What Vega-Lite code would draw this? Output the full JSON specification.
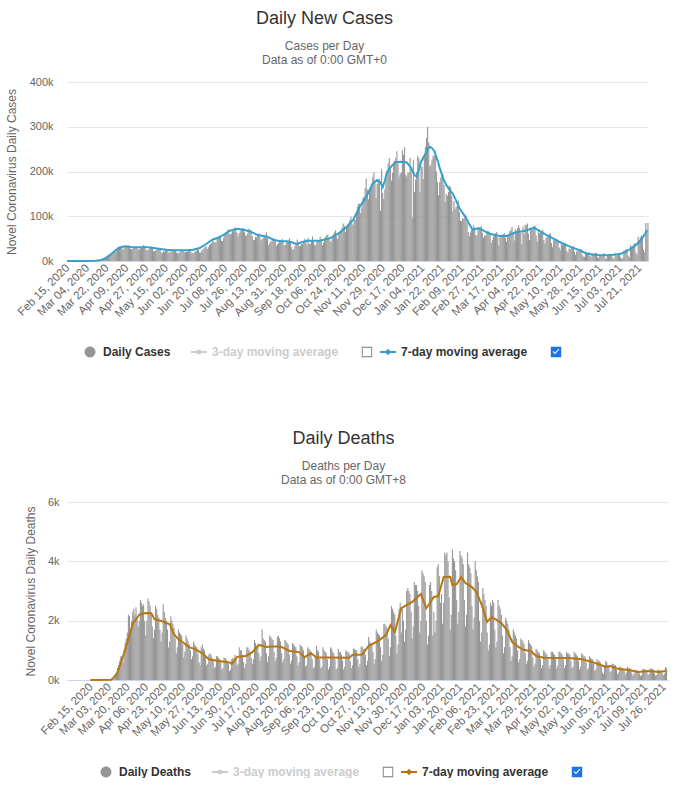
{
"$schema":"https://vega.github.io/schema/vega-lite/v6.json",
"padding":{"left":5,"top":10,"right":0,"bottom":0},
"spacing":72,
"background":"#ffffff",
"config":{"font":"Liberation Sans","view":{"stroke":null},
"axis":{"labelFont":"Liberation Sans","titleFont":"Liberation Sans","labelColor":"#666666","titleColor":"#666666","titleFontWeight":"normal","titleFontSize":12,"labelFontSize":11},
"title":{"font":"Liberation Sans","subtitleFont":"Liberation Sans"}},
"resolve":{"scale":{"color":"independent"},"legend":{"color":"independent"}},
"datasets":{
"daily":[
{"d":"2020-02-15","c":1,"k":0},{"d":"2020-02-16","c":0,"k":0},{"d":"2020-02-17","c":0,"k":0},{"d":"2020-02-18","c":0,"k":0},{"d":"2020-02-19","c":1,"k":0},{"d":"2020-02-20","c":0,"k":0},{"d":"2020-02-21","c":2,"k":0},
{"d":"2020-02-22","c":0,"k":0},{"d":"2020-02-23","c":3,"k":0},{"d":"2020-02-24","c":0,"k":0},{"d":"2020-02-25","c":0,"k":0},{"d":"2020-02-26","c":1,"k":0},{"d":"2020-02-27","c":2,"k":0},{"d":"2020-02-28","c":1,"k":0},
{"d":"2020-02-29","c":7,"k":0},{"d":"2020-03-01","c":10,"k":0},{"d":"2020-03-02","c":20,"k":2},{"d":"2020-03-03","c":24,"k":5},{"d":"2020-03-04","c":30,"k":10},{"d":"2020-03-05","c":70,"k":20},{"d":"2020-03-06","c":60,"k":30},
{"d":"2020-03-07","c":120,"k":50},{"d":"2020-03-08","c":120,"k":100},{"d":"2020-03-09","c":190,"k":200},{"d":"2020-03-10","c":290,"k":400},{"d":"2020-03-11","c":320,"k":500},{"d":"2020-03-12","c":400,"k":650},{"d":"2020-03-13","c":470,"k":800},
{"d":"2020-03-14","c":700,"k":800},{"d":"2020-03-15","c":800,"k":600},{"d":"2020-03-16","c":1300,"k":1000},{"d":"2020-03-17","c":1400,"k":1250},{"d":"2020-03-18","c":3000,"k":1400},{"d":"2020-03-19","c":4800,"k":1600},{"d":"2020-03-20","c":6000,"k":2200},
{"d":"2020-03-21","c":7500,"k":2150},{"d":"2020-03-22","c":9000,"k":1700},{"d":"2020-03-23","c":11000,"k":2000},{"d":"2020-03-24","c":12000,"k":2300},{"d":"2020-03-25","c":14000,"k":2400},{"d":"2020-03-26","c":17500,"k":2200},{"d":"2020-03-27","c":19000,"k":2450},
{"d":"2020-03-28","c":19000,"k":2100},{"d":"2020-03-29","c":20000,"k":1800},{"d":"2020-03-30","c":21000,"k":2000},{"d":"2020-03-31","c":26000,"k":2700},{"d":"2020-04-01","c":27000,"k":2600},{"d":"2020-04-02","c":29000,"k":2500},{"d":"2020-04-03","c":32000,"k":2550},
{"d":"2020-04-04","c":34000,"k":2000},{"d":"2020-04-05","c":25000,"k":1500},{"d":"2020-04-06","c":28000,"k":2000},{"d":"2020-04-07","c":31000,"k":2750},{"d":"2020-04-08","c":32000,"k":2650},{"d":"2020-04-09","c":34000,"k":2500},{"d":"2020-04-10","c":35000,"k":2200},
{"d":"2020-04-11","c":30000,"k":1800},{"d":"2020-04-12","c":27000,"k":1400},{"d":"2020-04-13","c":26000,"k":1700},{"d":"2020-04-14","c":27000,"k":2500},{"d":"2020-04-15","c":29000,"k":2400},{"d":"2020-04-16","c":30000,"k":2200},{"d":"2020-04-17","c":32000,"k":2100},
{"d":"2020-04-18","c":29000,"k":1700},{"d":"2020-04-19","c":25000,"k":1300},{"d":"2020-04-20","c":26000,"k":1600},{"d":"2020-04-21","c":28000,"k":2550},{"d":"2020-04-22","c":29000,"k":2300},{"d":"2020-04-23","c":31000,"k":2100},{"d":"2020-04-24","c":36000,"k":2000},
{"d":"2020-04-25","c":33000,"k":1700},{"d":"2020-04-26","c":25000,"k":1100},{"d":"2020-04-27","c":24000,"k":1300},{"d":"2020-04-28","c":25000,"k":2150},{"d":"2020-04-29","c":27000,"k":2000},{"d":"2020-04-30","c":30000,"k":1900},{"d":"2020-05-01","c":33000,"k":1750},
{"d":"2020-05-02","c":29000,"k":1400},{"d":"2020-05-03","c":22000,"k":900},{"d":"2020-05-04","c":22000,"k":1100},{"d":"2020-05-05","c":24000,"k":1700},{"d":"2020-05-06","c":25000,"k":1600},{"d":"2020-05-07","c":28000,"k":1550},{"d":"2020-05-08","c":28000,"k":1500},
{"d":"2020-05-09","c":25000,"k":1200},{"d":"2020-05-10","c":19000,"k":750},{"d":"2020-05-11","c":18000,"k":950},{"d":"2020-05-12","c":22000,"k":1500},{"d":"2020-05-13","c":21000,"k":1400},{"d":"2020-05-14","c":27000,"k":1300},{"d":"2020-05-15","c":27000,"k":1200},
{"d":"2020-05-16","c":24000,"k":1000},{"d":"2020-05-17","c":18000,"k":700},{"d":"2020-05-18","c":21000,"k":800},{"d":"2020-05-19","c":20000,"k":1300},{"d":"2020-05-20","c":22000,"k":1200},{"d":"2020-05-21","c":27000,"k":1150},{"d":"2020-05-22","c":25000,"k":1100},
{"d":"2020-05-23","c":22000,"k":900},{"d":"2020-05-24","c":19000,"k":600},{"d":"2020-05-25","c":17000,"k":500},{"d":"2020-05-26","c":18000,"k":1100},{"d":"2020-05-27","c":20000,"k":1200},{"d":"2020-05-28","c":22000,"k":1050},{"d":"2020-05-29","c":25000,"k":1000},
{"d":"2020-05-30","c":23000,"k":800},{"d":"2020-05-31","c":19000,"k":500},{"d":"2020-06-01","c":20000,"k":550},{"d":"2020-06-02","c":20000,"k":850},{"d":"2020-06-03","c":21000,"k":900},{"d":"2020-06-04","c":23000,"k":850},{"d":"2020-06-05","c":25000,"k":750},
{"d":"2020-06-06","c":22000,"k":650},{"d":"2020-06-07","c":17000,"k":400},{"d":"2020-06-08","c":18000,"k":450},{"d":"2020-06-09","c":19000,"k":800},{"d":"2020-06-10","c":22000,"k":800},{"d":"2020-06-11","c":23000,"k":750},{"d":"2020-06-12","c":26000,"k":700},
{"d":"2020-06-13","c":25000,"k":600},{"d":"2020-06-14","c":19000,"k":350},{"d":"2020-06-15","c":19000,"k":400},{"d":"2020-06-16","c":23000,"k":750},{"d":"2020-06-17","c":26000,"k":750},{"d":"2020-06-18","c":28000,"k":700},{"d":"2020-06-19","c":32000,"k":650},
{"d":"2020-06-20","c":33000,"k":550},{"d":"2020-06-21","c":27000,"k":300},{"d":"2020-06-22","c":31000,"k":350},{"d":"2020-06-23","c":35000,"k":700},{"d":"2020-06-24","c":38000,"k":750},{"d":"2020-06-25","c":40000,"k":700},{"d":"2020-06-26","c":46000,"k":850},
{"d":"2020-06-27","c":43000,"k":700},{"d":"2020-06-28","c":42000,"k":500},{"d":"2020-06-29","c":42000,"k":550},{"d":"2020-06-30","c":50000,"k":1100},{"d":"2020-07-01","c":52000,"k":1000},{"d":"2020-07-02","c":57000,"k":1000},{"d":"2020-07-03","c":54000,"k":850},
{"d":"2020-07-04","c":45000,"k":600},{"d":"2020-07-05","c":44000,"k":400},{"d":"2020-07-06","c":52000,"k":550},{"d":"2020-07-07","c":60000,"k":1100},{"d":"2020-07-08","c":63000,"k":1100},{"d":"2020-07-09","c":64000,"k":1000},{"d":"2020-07-10","c":71000,"k":950},
{"d":"2020-07-11","c":61000,"k":750},{"d":"2020-07-12","c":59000,"k":550},{"d":"2020-07-13","c":62000,"k":700},{"d":"2020-07-14","c":68000,"k":1350},{"d":"2020-07-15","c":66000,"k":1250},{"d":"2020-07-16","c":75000,"k":1150},{"d":"2020-07-17","c":72000,"k":1100},
{"d":"2020-07-18","c":64000,"k":900},{"d":"2020-07-19","c":56000,"k":650},{"d":"2020-07-20","c":62000,"k":800},{"d":"2020-07-21","c":66000,"k":1700},{"d":"2020-07-22","c":72000,"k":1400},{"d":"2020-07-23","c":71000,"k":1350},{"d":"2020-07-24","c":74000,"k":1300},
{"d":"2020-07-25","c":64000,"k":900},{"d":"2020-07-26","c":56000,"k":600},{"d":"2020-07-27","c":58000,"k":800},{"d":"2020-07-28","c":63000,"k":1500},{"d":"2020-07-29","c":72000,"k":1450},{"d":"2020-07-30","c":70000,"k":1400},{"d":"2020-07-31","c":68000,"k":1350},
{"d":"2020-08-01","c":56000,"k":950},{"d":"2020-08-02","c":47000,"k":650},{"d":"2020-08-03","c":47000,"k":750},{"d":"2020-08-04","c":54000,"k":1450},{"d":"2020-08-05","c":53000,"k":1500},{"d":"2020-08-06","c":58000,"k":1400},{"d":"2020-08-07","c":62000,"k":1300},
{"d":"2020-08-08","c":55000,"k":900},{"d":"2020-08-09","c":46000,"k":600},{"d":"2020-08-10","c":49000,"k":700},{"d":"2020-08-11","c":52000,"k":1350},{"d":"2020-08-12","c":55000,"k":1300},{"d":"2020-08-13","c":52000,"k":1250},{"d":"2020-08-14","c":64000,"k":1200},
{"d":"2020-08-15","c":51000,"k":850},{"d":"2020-08-16","c":35000,"k":550},{"d":"2020-08-17","c":40000,"k":650},{"d":"2020-08-18","c":44000,"k":1250},{"d":"2020-08-19","c":46000,"k":1200},{"d":"2020-08-20","c":46000,"k":1150},{"d":"2020-08-21","c":50000,"k":1100},
{"d":"2020-08-22","c":44000,"k":800},{"d":"2020-08-23","c":34000,"k":500},{"d":"2020-08-24","c":37000,"k":600},{"d":"2020-08-25","c":40000,"k":1200},{"d":"2020-08-26","c":45000,"k":1150},{"d":"2020-08-27","c":46000,"k":1100},{"d":"2020-08-28","c":50000,"k":1000},
{"d":"2020-08-29","c":45000,"k":750},{"d":"2020-08-30","c":35000,"k":450},{"d":"2020-08-31","c":36000,"k":500},{"d":"2020-09-01","c":40000,"k":1100},{"d":"2020-09-02","c":44000,"k":1050},{"d":"2020-09-03","c":45000,"k":1000},{"d":"2020-09-04","c":51000,"k":950},
{"d":"2020-09-05","c":43000,"k":700},{"d":"2020-09-06","c":31000,"k":400},{"d":"2020-09-07","c":24000,"k":450},{"d":"2020-09-08","c":27000,"k":800},{"d":"2020-09-09","c":34000,"k":1150},{"d":"2020-09-10","c":36000,"k":1000},{"d":"2020-09-11","c":48000,"k":950},
{"d":"2020-09-12","c":39000,"k":700},{"d":"2020-09-13","c":33000,"k":400},{"d":"2020-09-14","c":34000,"k":450},{"d":"2020-09-15","c":39000,"k":1100},{"d":"2020-09-16","c":38000,"k":1000},{"d":"2020-09-17","c":45000,"k":950},{"d":"2020-09-18","c":50000,"k":900},
{"d":"2020-09-19","c":42000,"k":700},{"d":"2020-09-20","c":36000,"k":350},{"d":"2020-09-21","c":52000,"k":450},{"d":"2020-09-22","c":39000,"k":1100},{"d":"2020-09-23","c":38000,"k":1050},{"d":"2020-09-24","c":45000,"k":950},{"d":"2020-09-25","c":55000,"k":900},
{"d":"2020-09-26","c":43000,"k":700},{"d":"2020-09-27","c":35000,"k":350},{"d":"2020-09-28","c":36000,"k":400},{"d":"2020-09-29","c":43000,"k":1050},{"d":"2020-09-30","c":45000,"k":950},{"d":"2020-10-01","c":47000,"k":950},{"d":"2020-10-02","c":54000,"k":850},
{"d":"2020-10-03","c":48000,"k":650},{"d":"2020-10-04","c":36000,"k":350},{"d":"2020-10-05","c":41000,"k":450},{"d":"2020-10-06","c":50000,"k":1000},{"d":"2020-10-07","c":54000,"k":950},{"d":"2020-10-08","c":58000,"k":950},{"d":"2020-10-09","c":59000,"k":900},
{"d":"2020-10-10","c":49000,"k":650},{"d":"2020-10-11","c":45000,"k":400},{"d":"2020-10-12","c":42000,"k":500},{"d":"2020-10-13","c":53000,"k":1050},{"d":"2020-10-14","c":60000,"k":1050},{"d":"2020-10-15","c":64000,"k":1000},{"d":"2020-10-16","c":69000,"k":1000},
{"d":"2020-10-17","c":55000,"k":700},{"d":"2020-10-18","c":49000,"k":450},{"d":"2020-10-19","c":60000,"k":550},{"d":"2020-10-20","c":63000,"k":1100},{"d":"2020-10-21","c":65000,"k":1150},{"d":"2020-10-22","c":75000,"k":1050},{"d":"2020-10-23","c":84000,"k":1050},
{"d":"2020-10-24","c":79000,"k":850},{"d":"2020-10-25","c":64000,"k":500},{"d":"2020-10-26","c":74000,"k":650},{"d":"2020-10-27","c":78000,"k":1450},{"d":"2020-10-28","c":80000,"k":1300},{"d":"2020-10-29","c":91000,"k":1250},{"d":"2020-10-30","c":99000,"k":1200},
{"d":"2020-10-31","c":84000,"k":950},{"d":"2020-11-01","c":81000,"k":550},{"d":"2020-11-02","c":93000,"k":700},{"d":"2020-11-03","c":92000,"k":1700},{"d":"2020-11-04","c":105000,"k":1600},{"d":"2020-11-05","c":122000,"k":1550},{"d":"2020-11-06","c":128000,"k":1500},
{"d":"2020-11-07","c":128000,"k":1100},{"d":"2020-11-08","c":107000,"k":650},{"d":"2020-11-09","c":120000,"k":850},{"d":"2020-11-10","c":141000,"k":1900},{"d":"2020-11-11","c":144000,"k":1900},{"d":"2020-11-12","c":163000,"k":1800},{"d":"2020-11-13","c":184000,"k":1750},
{"d":"2020-11-14","c":160000,"k":1400},{"d":"2020-11-15","c":138000,"k":800},{"d":"2020-11-16","c":158000,"k":1100},{"d":"2020-11-17","c":162000,"k":2500},{"d":"2020-11-18","c":172000,"k":2400},{"d":"2020-11-19","c":187000,"k":2300},{"d":"2020-11-20","c":198000,"k":2200},
{"d":"2020-11-21","c":178000,"k":1500},{"d":"2020-11-22","c":141000,"k":900},{"d":"2020-11-23","c":172000,"k":1200},{"d":"2020-11-24","c":180000,"k":2400},{"d":"2020-11-25","c":184000,"k":2600},{"d":"2020-11-26","c":112000,"k":1600},{"d":"2020-11-27","c":205000,"k":2400},
{"d":"2020-11-28","c":152000,"k":2000},{"d":"2020-11-29","c":139000,"k":1300},{"d":"2020-11-30","c":161000,"k":1700},{"d":"2020-12-01","c":185000,"k":3000},{"d":"2020-12-02","c":200000,"k":3100},{"d":"2020-12-03","c":218000,"k":3000},{"d":"2020-12-04","c":230000,"k":2900},
{"d":"2020-12-05","c":211000,"k":2300},{"d":"2020-12-06","c":180000,"k":1400},{"d":"2020-12-07","c":197000,"k":1800},{"d":"2020-12-08","c":221000,"k":3300},{"d":"2020-12-09","c":224000,"k":3200},{"d":"2020-12-10","c":231000,"k":3200},{"d":"2020-12-11","c":245000,"k":3000},
{"d":"2020-12-12","c":218000,"k":2500},{"d":"2020-12-13","c":189000,"k":1600},{"d":"2020-12-14","c":196000,"k":2000},{"d":"2020-12-15","c":197000,"k":3700},{"d":"2020-12-16","c":248000,"k":3600},{"d":"2020-12-17","c":237000,"k":3500},{"d":"2020-12-18","c":254000,"k":3300},
{"d":"2020-12-19","c":193000,"k":2000},{"d":"2020-12-20","c":189000,"k":1200},{"d":"2020-12-21","c":198000,"k":1500},{"d":"2020-12-22","c":197000,"k":3200},{"d":"2020-12-23","c":230000,"k":3300},{"d":"2020-12-24","c":210000,"k":3000},{"d":"2020-12-25","c":97000,"k":1500},
{"d":"2020-12-26","c":226000,"k":2300},{"d":"2020-12-27","c":154000,"k":1600},{"d":"2020-12-28","c":182000,"k":2000},{"d":"2020-12-29","c":199000,"k":3800},{"d":"2020-12-30","c":235000,"k":3900},{"d":"2020-12-31","c":230000,"k":3500},{"d":"2021-01-01","c":155000,"k":2600},
{"d":"2021-01-02","c":213000,"k":2900},{"d":"2021-01-03","c":210000,"k":1900},{"d":"2021-01-04","c":183000,"k":2600},{"d":"2021-01-05","c":235000,"k":4300},{"d":"2021-01-06","c":255000,"k":4200},{"d":"2021-01-07","c":275000,"k":4300},{"d":"2021-01-08","c":300000,"k":4000},
{"d":"2021-01-09","c":265000,"k":2800},{"d":"2021-01-10","c":212000,"k":1700},{"d":"2021-01-11","c":215000,"k":2200},{"d":"2021-01-12","c":227000,"k":4400},{"d":"2021-01-13","c":235000,"k":4100},{"d":"2021-01-14","c":235000,"k":4000},{"d":"2021-01-15","c":245000,"k":3700},
{"d":"2021-01-16","c":200000,"k":2700},{"d":"2021-01-17","c":176000,"k":1900},{"d":"2021-01-18","c":147000,"k":2300},{"d":"2021-01-19","c":176000,"k":4350},{"d":"2021-01-20","c":186000,"k":4200},{"d":"2021-01-21","c":195000,"k":4100},{"d":"2021-01-22","c":194000,"k":3900},
{"d":"2021-01-23","c":170000,"k":2700},{"d":"2021-01-24","c":132000,"k":1800},{"d":"2021-01-25","c":150000,"k":2200},{"d":"2021-01-26","c":146000,"k":4300},{"d":"2021-01-27","c":154000,"k":3900},{"d":"2021-01-28","c":168000,"k":3800},{"d":"2021-01-29","c":165000,"k":3600},
{"d":"2021-01-30","c":146000,"k":2500},{"d":"2021-01-31","c":112000,"k":1700},{"d":"2021-02-01","c":134000,"k":2100},{"d":"2021-02-02","c":117000,"k":4000},{"d":"2021-02-03","c":121000,"k":3700},{"d":"2021-02-04","c":123000,"k":3500},{"d":"2021-02-05","c":135000,"k":3300},
{"d":"2021-02-06","c":109000,"k":2000},{"d":"2021-02-07","c":90000,"k":1300},{"d":"2021-02-08","c":89000,"k":1600},{"d":"2021-02-09","c":96000,"k":3100},{"d":"2021-02-10","c":94000,"k":2900},{"d":"2021-02-11","c":104000,"k":2700},{"d":"2021-02-12","c":101000,"k":2500},
{"d":"2021-02-13","c":85000,"k":1600},{"d":"2021-02-14","c":65000,"k":1000},{"d":"2021-02-15","c":56000,"k":1200},{"d":"2021-02-16","c":63000,"k":2600},{"d":"2021-02-17","c":70000,"k":2500},{"d":"2021-02-18","c":69000,"k":2700},{"d":"2021-02-19","c":80000,"k":2600},
{"d":"2021-02-20","c":73000,"k":1700},{"d":"2021-02-21","c":58000,"k":1100},{"d":"2021-02-22","c":57000,"k":1300},{"d":"2021-02-23","c":73000,"k":2700},{"d":"2021-02-24","c":74000,"k":2500},{"d":"2021-02-25","c":76000,"k":2400},{"d":"2021-02-26","c":78000,"k":2200},
{"d":"2021-02-27","c":63000,"k":1500},{"d":"2021-02-28","c":52000,"k":900},{"d":"2021-03-01","c":57000,"k":1100},{"d":"2021-03-02","c":57000,"k":2100},{"d":"2021-03-03","c":65000,"k":2000},{"d":"2021-03-04","c":68000,"k":1900},{"d":"2021-03-05","c":66000,"k":1700},
{"d":"2021-03-06","c":59000,"k":1100},{"d":"2021-03-07","c":40000,"k":650},{"d":"2021-03-08","c":47000,"k":800},{"d":"2021-03-09","c":55000,"k":1700},{"d":"2021-03-10","c":59000,"k":1600},{"d":"2021-03-11","c":62000,"k":1500},{"d":"2021-03-12","c":65000,"k":1400},
{"d":"2021-03-13","c":53000,"k":1000},{"d":"2021-03-14","c":35000,"k":600},{"d":"2021-03-15","c":56000,"k":700},{"d":"2021-03-16","c":53000,"k":1400},{"d":"2021-03-17","c":59000,"k":1350},{"d":"2021-03-18","c":60000,"k":1300},{"d":"2021-03-19","c":62000,"k":1200},
{"d":"2021-03-20","c":52000,"k":900},{"d":"2021-03-21","c":43000,"k":550},{"d":"2021-03-22","c":58000,"k":650},{"d":"2021-03-23","c":59000,"k":1350},{"d":"2021-03-24","c":67000,"k":1250},{"d":"2021-03-25","c":70000,"k":1200},{"d":"2021-03-26","c":77000,"k":1150},
{"d":"2021-03-27","c":64000,"k":750},{"d":"2021-03-28","c":46000,"k":450},{"d":"2021-03-29","c":71000,"k":550},{"d":"2021-03-30","c":64000,"k":1050},{"d":"2021-03-31","c":73000,"k":1000},{"d":"2021-04-01","c":80000,"k":950},{"d":"2021-04-02","c":74000,"k":900},
{"d":"2021-04-03","c":63000,"k":700},{"d":"2021-04-04","c":37000,"k":400},{"d":"2021-04-05","c":77000,"k":500},{"d":"2021-04-06","c":61000,"k":1000},{"d":"2021-04-07","c":81000,"k":950},{"d":"2021-04-08","c":80000,"k":900},{"d":"2021-04-09","c":84000,"k":850},
{"d":"2021-04-10","c":61000,"k":700},{"d":"2021-04-11","c":47000,"k":400},{"d":"2021-04-12","c":75000,"k":500},{"d":"2021-04-13","c":69000,"k":950},{"d":"2021-04-14","c":75000,"k":950},{"d":"2021-04-15","c":78000,"k":900},{"d":"2021-04-16","c":79000,"k":850},
{"d":"2021-04-17","c":57000,"k":700},{"d":"2021-04-18","c":43000,"k":400},{"d":"2021-04-19","c":68000,"k":500},{"d":"2021-04-20","c":62000,"k":950},{"d":"2021-04-21","c":65000,"k":950},{"d":"2021-04-22","c":67000,"k":900},{"d":"2021-04-23","c":70000,"k":850},
{"d":"2021-04-24","c":47000,"k":700},{"d":"2021-04-25","c":39000,"k":400},{"d":"2021-04-26","c":52000,"k":500},{"d":"2021-04-27","c":54000,"k":950},{"d":"2021-04-28","c":58000,"k":900},{"d":"2021-04-29","c":60000,"k":900},{"d":"2021-04-30","c":62000,"k":850},
{"d":"2021-05-01","c":40000,"k":650},{"d":"2021-05-02","c":31000,"k":400},{"d":"2021-05-03","c":47000,"k":450},{"d":"2021-05-04","c":45000,"k":950},{"d":"2021-05-05","c":45000,"k":900},{"d":"2021-05-06","c":50000,"k":850},{"d":"2021-05-07","c":47000,"k":800},
{"d":"2021-05-08","c":30000,"k":650},{"d":"2021-05-09","c":24000,"k":350},{"d":"2021-05-10","c":38000,"k":450},{"d":"2021-05-11","c":35000,"k":900},{"d":"2021-05-12","c":38000,"k":850},{"d":"2021-05-13","c":38000,"k":800},{"d":"2021-05-14","c":40000,"k":800},
{"d":"2021-05-15","c":23000,"k":600},{"d":"2021-05-16","c":19000,"k":350},{"d":"2021-05-17","c":28000,"k":400},{"d":"2021-05-18","c":27000,"k":800},{"d":"2021-05-19","c":30000,"k":750},{"d":"2021-05-20","c":31000,"k":700},{"d":"2021-05-21","c":34000,"k":700},
{"d":"2021-05-22","c":21000,"k":550},{"d":"2021-05-23","c":14000,"k":300},{"d":"2021-05-24","c":23000,"k":350},{"d":"2021-05-25","c":22000,"k":700},{"d":"2021-05-26","c":26000,"k":650},{"d":"2021-05-27","c":27000,"k":650},{"d":"2021-05-28","c":26000,"k":600},
{"d":"2021-05-29","c":14000,"k":450},{"d":"2021-05-30","c":10000,"k":250},{"d":"2021-05-31","c":9000,"k":200},{"d":"2021-06-01","c":17000,"k":500},{"d":"2021-06-02","c":19000,"k":650},{"d":"2021-06-03","c":18000,"k":600},{"d":"2021-06-04","c":20000,"k":500},
{"d":"2021-06-05","c":12000,"k":450},{"d":"2021-06-06","c":8000,"k":250},{"d":"2021-06-07","c":14000,"k":300},{"d":"2021-06-08","c":17000,"k":550},{"d":"2021-06-09","c":16000,"k":550},{"d":"2021-06-10","c":19000,"k":500},{"d":"2021-06-11","c":18000,"k":500},
{"d":"2021-06-12","c":9000,"k":350},{"d":"2021-06-13","c":6000,"k":200},{"d":"2021-06-14","c":15000,"k":250},{"d":"2021-06-15","c":12000,"k":450},{"d":"2021-06-16","c":13000,"k":450},{"d":"2021-06-17","c":15000,"k":400},{"d":"2021-06-18","c":18000,"k":400},
{"d":"2021-06-19","c":6000,"k":300},{"d":"2021-06-20","c":5000,"k":180},{"d":"2021-06-21","c":14000,"k":250},{"d":"2021-06-22","c":11000,"k":450},{"d":"2021-06-23","c":12000,"k":400},{"d":"2021-06-24","c":14000,"k":400},{"d":"2021-06-25","c":15000,"k":380},
{"d":"2021-06-26","c":7000,"k":250},{"d":"2021-06-27","c":5000,"k":150},{"d":"2021-06-28","c":17000,"k":200},{"d":"2021-06-29","c":12000,"k":350},{"d":"2021-06-30","c":14000,"k":320},{"d":"2021-07-01","c":17000,"k":320},{"d":"2021-07-02","c":18000,"k":300},
{"d":"2021-07-03","c":8000,"k":220},{"d":"2021-07-04","c":5000,"k":130},{"d":"2021-07-05","c":6000,"k":160},{"d":"2021-07-06","c":23000,"k":350},{"d":"2021-07-07","c":24000,"k":380},{"d":"2021-07-08","c":27000,"k":360},{"d":"2021-07-09","c":26000,"k":340},
{"d":"2021-07-10","c":11000,"k":250},{"d":"2021-07-11","c":8000,"k":150},{"d":"2021-07-12","c":35000,"k":200},{"d":"2021-07-13","c":32000,"k":400},{"d":"2021-07-14","c":33000,"k":380},{"d":"2021-07-15","c":37000,"k":370},{"d":"2021-07-16","c":40000,"k":350},
{"d":"2021-07-17","c":18000,"k":220},{"d":"2021-07-18","c":14000,"k":140},{"d":"2021-07-19","c":54000,"k":180},{"d":"2021-07-20","c":47000,"k":350},{"d":"2021-07-21","c":53000,"k":340},{"d":"2021-07-22","c":57000,"k":330},{"d":"2021-07-23","c":56000,"k":320},
{"d":"2021-07-24","c":25000,"k":240},{"d":"2021-07-25","c":19000,"k":160},{"d":"2021-07-26","c":85000,"k":200},{"d":"2021-07-27","c":70000,"k":440},{"d":"2021-07-28","c":85000,"k":400}
],
"casesMA":[
{"d":"2020-02-15","c":0},{"d":"2020-03-01","c":0},{"d":"2020-03-12","c":300},{"d":"2020-03-16","c":1500},{"d":"2020-03-20","c":5000},{"d":"2020-03-25","c":13000},{"d":"2020-04-02","c":29000},{"d":"2020-04-08","c":33000},{"d":"2020-04-14","c":31000},{"d":"2020-04-21","c":31000},{"d":"2020-04-28","c":31000},{"d":"2020-05-04","c":29000},{"d":"2020-05-10","c":27000},{"d":"2020-05-16","c":25000},{"d":"2020-05-22","c":24000},{"d":"2020-05-28","c":24000},{"d":"2020-06-03","c":24000},{"d":"2020-06-09","c":25000},{"d":"2020-06-15","c":29000},{"d":"2020-06-21","c":38000},{"d":"2020-06-27","c":48000},{"d":"2020-07-03","c":53000},{"d":"2020-07-08","c":60000},{"d":"2020-07-12","c":67000},{"d":"2020-07-19","c":72000},{"d":"2020-07-25","c":70000},{"d":"2020-07-31","c":66000},{"d":"2020-08-07","c":58000},{"d":"2020-08-15","c":55000},{"d":"2020-08-22","c":47000},{"d":"2020-08-28","c":44000},{"d":"2020-09-02","c":44000},{"d":"2020-09-07","c":42000},{"d":"2020-09-11","c":38000},{"d":"2020-09-16","c":42000},{"d":"2020-09-21","c":45000},{"d":"2020-09-27","c":45000},{"d":"2020-10-02","c":45000},{"d":"2020-10-07","c":48000},{"d":"2020-10-12","c":51000},{"d":"2020-10-17","c":57000},{"d":"2020-10-21","c":64000},{"d":"2020-10-27","c":76000},{"d":"2020-11-02","c":92000},{"d":"2020-11-08","c":121000},{"d":"2020-11-14","c":143000},{"d":"2020-11-20","c":174000},{"d":"2020-11-24","c":181000},{"d":"2020-11-27","c":175000},{"d":"2020-11-29","c":165000},{"d":"2020-12-01","c":180000},{"d":"2020-12-03","c":199000},{"d":"2020-12-07","c":212000},{"d":"2020-12-11","c":221000},{"d":"2020-12-16","c":222000},{"d":"2020-12-21","c":220000},{"d":"2020-12-25","c":208000},{"d":"2020-12-28","c":192000},{"d":"2020-12-30","c":188000},{"d":"2021-01-01","c":205000},{"d":"2021-01-03","c":222000},{"d":"2021-01-06","c":235000},{"d":"2021-01-09","c":250000},{"d":"2021-01-11","c":255000},{"d":"2021-01-13","c":252000},{"d":"2021-01-15","c":246000},{"d":"2021-01-18","c":225000},{"d":"2021-01-20","c":208000},{"d":"2021-01-23","c":185000},{"d":"2021-01-26","c":170000},{"d":"2021-01-29","c":159000},{"d":"2021-02-01","c":150000},{"d":"2021-02-04","c":135000},{"d":"2021-02-07","c":118000},{"d":"2021-02-10","c":107000},{"d":"2021-02-13","c":96000},{"d":"2021-02-16","c":82000},{"d":"2021-02-19","c":70000},{"d":"2021-02-22","c":72000},{"d":"2021-02-25","c":73000},{"d":"2021-03-03","c":65000},{"d":"2021-03-07","c":61000},{"d":"2021-03-11","c":58000},{"d":"2021-03-16","c":56000},{"d":"2021-03-22","c":56000},{"d":"2021-03-27","c":61000},{"d":"2021-03-31","c":65000},{"d":"2021-04-04","c":66000},{"d":"2021-04-07","c":67000},{"d":"2021-04-12","c":71000},{"d":"2021-04-16","c":74000},{"d":"2021-04-20","c":69000},{"d":"2021-04-24","c":63000},{"d":"2021-04-28","c":57000},{"d":"2021-05-03","c":51000},{"d":"2021-05-09","c":43000},{"d":"2021-05-15","c":36000},{"d":"2021-05-21","c":30000},{"d":"2021-05-27","c":25000},{"d":"2021-06-01","c":19000},{"d":"2021-06-04","c":16000},{"d":"2021-06-10","c":14000},{"d":"2021-06-15","c":13000},{"d":"2021-06-21","c":13000},{"d":"2021-06-27","c":14000},{"d":"2021-07-01","c":15000},{"d":"2021-07-04","c":16000},{"d":"2021-07-08","c":20000},{"d":"2021-07-11","c":24000},{"d":"2021-07-14","c":29000},{"d":"2021-07-18","c":36000},{"d":"2021-07-21","c":43000},{"d":"2021-07-24","c":52000},{"d":"2021-07-26","c":59000},{"d":"2021-07-28","c":69000}
],
"deathsMA":[
{"d":"2020-02-15","k":0},{"d":"2020-03-05","k":10},{"d":"2020-03-08","k":100},{"d":"2020-03-11","k":270},{"d":"2020-03-17","k":900},{"d":"2020-03-25","k":1900},{"d":"2020-03-31","k":2200},{"d":"2020-04-06","k":2260},{"d":"2020-04-11","k":2250},{"d":"2020-04-14","k":2050},{"d":"2020-04-21","k":1980},{"d":"2020-04-28","k":1880},{"d":"2020-05-01","k":1600},{"d":"2020-05-04","k":1450},{"d":"2020-05-09","k":1300},{"d":"2020-05-16","k":1100},{"d":"2020-05-21","k":1050},{"d":"2020-05-28","k":900},{"d":"2020-06-03","k":700},{"d":"2020-06-12","k":640},{"d":"2020-06-22","k":590},{"d":"2020-06-24","k":540},{"d":"2020-06-29","k":780},{"d":"2020-07-07","k":810},{"d":"2020-07-13","k":940},{"d":"2020-07-19","k":1180},{"d":"2020-07-26","k":1110},{"d":"2020-07-31","k":1130},{"d":"2020-08-08","k":1130},{"d":"2020-08-16","k":980},{"d":"2020-08-25","k":940},{"d":"2020-08-30","k":770},{"d":"2020-09-05","k":900},{"d":"2020-09-10","k":760},{"d":"2020-09-21","k":760},{"d":"2020-10-10","k":750},{"d":"2020-10-13","k":840},{"d":"2020-10-22","k":860},{"d":"2020-10-28","k":1150},{"d":"2020-11-06","k":1320},{"d":"2020-11-13","k":1520},{"d":"2020-11-17","k":1850},{"d":"2020-11-21","k":1620},{"d":"2020-11-27","k":2420},{"d":"2020-12-07","k":2630},{"d":"2020-12-15","k":2900},{"d":"2020-12-20","k":2420},{"d":"2020-12-27","k":2800},{"d":"2020-12-31","k":2830},{"d":"2021-01-05","k":3470},{"d":"2021-01-11","k":3480},{"d":"2021-01-13","k":3200},{"d":"2021-01-17","k":3230},{"d":"2021-01-21","k":3470},{"d":"2021-01-25","k":3270},{"d":"2021-01-31","k":3130},{"d":"2021-02-04","k":2970},{"d":"2021-02-09","k":2530},{"d":"2021-02-14","k":1960},{"d":"2021-02-18","k":2120},{"d":"2021-02-23","k":2020},{"d":"2021-02-27","k":1920},{"d":"2021-03-04","k":1690},{"d":"2021-03-09","k":1280},{"d":"2021-03-15","k":1110},{"d":"2021-03-20","k":1010},{"d":"2021-03-26","k":980},{"d":"2021-03-31","k":810},{"d":"2021-04-07","k":750},{"d":"2021-04-30","k":740},{"d":"2021-05-12","k":700},{"d":"2021-05-21","k":610},{"d":"2021-05-27","k":540},{"d":"2021-06-03","k":440},{"d":"2021-06-07","k":470},{"d":"2021-06-15","k":370},{"d":"2021-06-24","k":340},{"d":"2021-07-03","k":270},{"d":"2021-07-12","k":300},{"d":"2021-07-22","k":270},{"d":"2021-07-28","k":300}
]
},
"vconcat":[
{
"title":{"text":"Daily New Cases","subtitle":["Cases per Day","Data as of 0:00 GMT+0"],"anchor":"middle","frame":"group","dx":-33,"fontSize":18,"fontWeight":"normal","color":"#333333","subtitleFontSize":12,"subtitleColor":"#666666","subtitlePadding":13,"subtitleLineHeight":14,"offset":10},
"width":581,"height":179,
"encoding":{
"x":{"field":"d","type":"temporal","timeUnit":"utcyearmonthdate","title":null,
"scale":{"domain":[{"year":2020,"month":2,"date":15,"utc":true},{"year":2021,"month":7,"date":29,"utc":true}]},
"axis":{"values":[{"year":2020,"month":2,"date":15,"hours":12,"utc":true},{"year":2020,"month":3,"date":4,"hours":12,"utc":true},{"year":2020,"month":3,"date":22,"hours":12,"utc":true},{"year":2020,"month":4,"date":9,"hours":12,"utc":true},{"year":2020,"month":4,"date":27,"hours":12,"utc":true},{"year":2020,"month":5,"date":15,"hours":12,"utc":true},{"year":2020,"month":6,"date":2,"hours":12,"utc":true},{"year":2020,"month":6,"date":20,"hours":12,"utc":true},{"year":2020,"month":7,"date":8,"hours":12,"utc":true},{"year":2020,"month":7,"date":26,"hours":12,"utc":true},{"year":2020,"month":8,"date":13,"hours":12,"utc":true},{"year":2020,"month":8,"date":31,"hours":12,"utc":true},{"year":2020,"month":9,"date":18,"hours":12,"utc":true},{"year":2020,"month":10,"date":6,"hours":12,"utc":true},{"year":2020,"month":10,"date":24,"hours":12,"utc":true},{"year":2020,"month":11,"date":11,"hours":12,"utc":true},{"year":2020,"month":11,"date":29,"hours":12,"utc":true},{"year":2020,"month":12,"date":17,"hours":12,"utc":true},{"year":2021,"month":1,"date":4,"hours":12,"utc":true},{"year":2021,"month":1,"date":22,"hours":12,"utc":true},{"year":2021,"month":2,"date":9,"hours":12,"utc":true},{"year":2021,"month":2,"date":27,"hours":12,"utc":true},{"year":2021,"month":3,"date":17,"hours":12,"utc":true},{"year":2021,"month":4,"date":4,"hours":12,"utc":true},{"year":2021,"month":4,"date":22,"hours":12,"utc":true},{"year":2021,"month":5,"date":10,"hours":12,"utc":true},{"year":2021,"month":5,"date":28,"hours":12,"utc":true},{"year":2021,"month":6,"date":15,"hours":12,"utc":true},{"year":2021,"month":7,"date":3,"hours":12,"utc":true},{"year":2021,"month":7,"date":21,"hours":12,"utc":true}],
"format":"%b %d, %Y","formatType":"utc","labelAngle":-45,"labelAlign":"right","labelBaseline":"middle","labelFontSize":11.5,"labelOverlap":false,"labelBound":false,"labelFlush":false,"ticks":false,"grid":false,"domainColor":"#ccd6eb","labelPadding":5}},
"y":{"field":"c","type":"quantitative","scale":{"domain":[0,400000],"nice":false},
"axis":{"title":"Novel Coronavirus Daily Cases","values":[0,100000,200000,300000,400000],"format":"~s","grid":true,"gridColor":"#e6e6e6","domain":false,"ticks":false,"labelPadding":14,"titlePadding":11}}
},
"layer":[
{"data":{"name":"daily"},"mark":{"type":"bar","opacity":1,"binSpacing":0},
"encoding":{"color":{"datum":"Daily Cases","scale":{"domain":["Daily Cases","3-day moving average","cb1","7-day moving average","cb2"],"range":["#959595","#cccccc","#777777","#33a1cc","#1a73e8"]},
"legend":{"orient":"none","legendX":15,"legendY":262,"direction":"horizontal","title":null,"padding":0,"columnPadding":0,"labelOffset":5,"symbolSize":256,"symbolStrokeWidth":0,"symbolOpacity":1,"labelFontSize":12,"labelFontWeight":"bold","labelFont":"Liberation Sans",
"labelColor":{"expr":"datum.value == '3-day moving average' ? '#cccccc' : '#333333'"},
"symbolType":{"expr":"datum.value == 'Daily Cases' ? 'M-0.68,0A0.68,0.68,0,1,1,0.68,0A0.68,0.68,0,1,1,-0.68,0Z' : datum.value == '3-day moving average' ? 'M-1,-0.12H1V0.12H-1ZM-0.32,0A0.32,0.32,0,1,1,0.32,0A0.32,0.32,0,1,1,-0.32,0Z' : datum.value == '7-day moving average' ? 'M-1,-0.12H1V0.12H-1ZM0,-0.4L0.4,0L0,0.4L-0.4,0Z' : datum.value == 'cb1' ? 'M-0.65,-0.65H0.65V0.65H-0.65ZM-0.54,-0.54V0.54H0.54V-0.54Z' : 'M-0.65,-0.65H0.65V0.65H-0.65ZM-0.42,-0.02L-0.14,0.28L0.42,-0.3L0.32,-0.4L-0.14,0.08L-0.32,-0.12Z'"},
"labelExpr":"(datum.label == 'cb1' || datum.label == 'cb2') ? '\u200b' : datum.label + '\u00a0\u00a0\u00a0\u00a0\u00a0\u00a0\u200b'"}}}},
{"data":{"name":"casesMA"},"mark":{"type":"line","strokeWidth":2},"encoding":{"color":{"datum":"7-day moving average"}}}
]
},
{
"title":{"text":"Daily Deaths","subtitle":["Deaths per Day","Data as of 0:00 GMT+8"],"anchor":"middle","frame":"group","dx":-24,"fontSize":18,"fontWeight":"normal","color":"#333333","subtitleFontSize":12,"subtitleColor":"#666666","subtitlePadding":13,"subtitleLineHeight":14,"offset":10},
"width":601,"height":178,
"encoding":{
"x":{"field":"d","type":"temporal","timeUnit":"utcyearmonthdate","title":null,
"scale":{"domain":[{"year":2020,"month":1,"date":24,"hours":12,"utc":true},{"year":2021,"month":7,"date":30,"hours":7,"utc":true}]},
"axis":{"values":[{"year":2020,"month":2,"date":15,"hours":12,"utc":true},{"year":2020,"month":3,"date":3,"hours":12,"utc":true},{"year":2020,"month":3,"date":20,"hours":12,"utc":true},{"year":2020,"month":4,"date":6,"hours":12,"utc":true},{"year":2020,"month":4,"date":23,"hours":12,"utc":true},{"year":2020,"month":5,"date":10,"hours":12,"utc":true},{"year":2020,"month":5,"date":27,"hours":12,"utc":true},{"year":2020,"month":6,"date":13,"hours":12,"utc":true},{"year":2020,"month":6,"date":30,"hours":12,"utc":true},{"year":2020,"month":7,"date":17,"hours":12,"utc":true},{"year":2020,"month":8,"date":3,"hours":12,"utc":true},{"year":2020,"month":8,"date":20,"hours":12,"utc":true},{"year":2020,"month":9,"date":6,"hours":12,"utc":true},{"year":2020,"month":9,"date":23,"hours":12,"utc":true},{"year":2020,"month":10,"date":10,"hours":12,"utc":true},{"year":2020,"month":10,"date":27,"hours":12,"utc":true},{"year":2020,"month":11,"date":13,"hours":12,"utc":true},{"year":2020,"month":11,"date":30,"hours":12,"utc":true},{"year":2020,"month":12,"date":17,"hours":12,"utc":true},{"year":2021,"month":1,"date":3,"hours":12,"utc":true},{"year":2021,"month":1,"date":20,"hours":12,"utc":true},{"year":2021,"month":2,"date":6,"hours":12,"utc":true},{"year":2021,"month":2,"date":23,"hours":12,"utc":true},{"year":2021,"month":3,"date":12,"hours":12,"utc":true},{"year":2021,"month":3,"date":29,"hours":12,"utc":true},{"year":2021,"month":4,"date":15,"hours":12,"utc":true},{"year":2021,"month":5,"date":2,"hours":12,"utc":true},{"year":2021,"month":5,"date":19,"hours":12,"utc":true},{"year":2021,"month":6,"date":5,"hours":12,"utc":true},{"year":2021,"month":6,"date":22,"hours":12,"utc":true},{"year":2021,"month":7,"date":9,"hours":12,"utc":true},{"year":2021,"month":7,"date":26,"hours":12,"utc":true}],
"format":"%b %d, %Y","formatType":"utc","labelAngle":-45,"labelAlign":"right","labelBaseline":"middle","labelFontSize":11.5,"labelOverlap":false,"labelBound":false,"labelFlush":false,"ticks":false,"grid":false,"domainColor":"#ccd6eb","labelPadding":5}},
"y":{"field":"k","type":"quantitative","scale":{"domain":[0,6000],"nice":false},
"axis":{"title":"Novel Coronavirus Daily Deaths","values":[0,2000,4000,6000],"format":"~s","grid":true,"gridColor":"#e6e6e6","domain":false,"ticks":false,"labelPadding":8,"titlePadding":10}}
},
"layer":[
{"data":{"name":"daily"},"mark":{"type":"bar","opacity":1,"binSpacing":0},
"encoding":{"color":{"datum":"Daily Deaths","scale":{"domain":["Daily Deaths","3-day moving average","cb1","7-day moving average","cb2"],"range":["#959595","#cccccc","#777777","#b8760f","#1a73e8"]},
"legend":{"orient":"none","legendX":31,"legendY":262,"direction":"horizontal","title":null,"padding":0,"columnPadding":0,"labelOffset":5,"symbolSize":256,"symbolStrokeWidth":0,"symbolOpacity":1,"labelFontSize":12,"labelFontWeight":"bold","labelFont":"Liberation Sans",
"labelColor":{"expr":"datum.value == '3-day moving average' ? '#cccccc' : '#333333'"},
"symbolType":{"expr":"datum.value == 'Daily Deaths' ? 'M-0.68,0A0.68,0.68,0,1,1,0.68,0A0.68,0.68,0,1,1,-0.68,0Z' : datum.value == '3-day moving average' ? 'M-1,-0.12H1V0.12H-1ZM-0.32,0A0.32,0.32,0,1,1,0.32,0A0.32,0.32,0,1,1,-0.32,0Z' : datum.value == '7-day moving average' ? 'M-1,-0.12H1V0.12H-1ZM0,-0.4L0.4,0L0,0.4L-0.4,0Z' : datum.value == 'cb1' ? 'M-0.65,-0.65H0.65V0.65H-0.65ZM-0.54,-0.54V0.54H0.54V-0.54Z' : 'M-0.65,-0.65H0.65V0.65H-0.65ZM-0.42,-0.02L-0.14,0.28L0.42,-0.3L0.32,-0.4L-0.14,0.08L-0.32,-0.12Z'"},
"labelExpr":"(datum.label == 'cb1' || datum.label == 'cb2') ? '\u200b' : datum.label + '\u00a0\u00a0\u00a0\u00a0\u00a0\u00a0\u200b'"}}}},
{"data":{"name":"deathsMA"},"mark":{"type":"line","strokeWidth":2},"encoding":{"color":{"datum":"7-day moving average"}}}
]
}
]
}
